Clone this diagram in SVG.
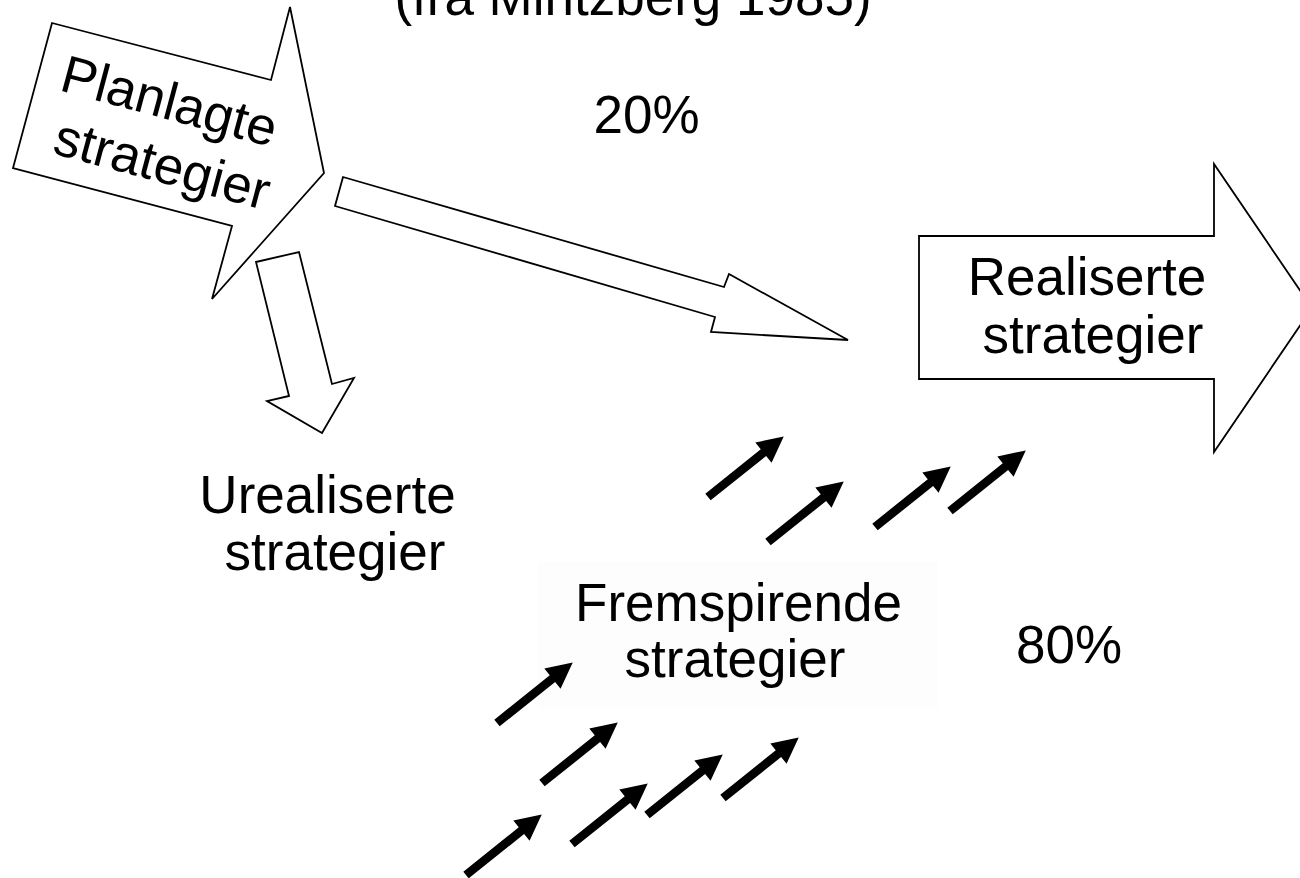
<svg xmlns="http://www.w3.org/2000/svg" xmlns:xlink="http://www.w3.org/1999/xlink" width="1300" height="878" viewBox="0 0 1300 878">
<style>
.t{font-family:"Liberation Sans",Arial,sans-serif;font-size:53px;fill:#000}
.m{text-anchor:middle}
.blk{fill:#fff;stroke:#000;stroke-width:1.8;stroke-linejoin:miter}
.sa{fill:#000}
</style>
<defs>
<path id="small" d="M0,-4.3 H71 V-13 L97,0 L71,13 V4.3 H0 Z"/>
</defs>
<rect width="1300" height="878" fill="#fff"/>
<rect id="fremspirende-bg" x="538" y="562" width="400" height="146" fill="#fdfdfd"/>
<g id="title"><text class="t m" x="633" y="15">(fra Mintzberg 1985)</text></g>
<g id="connectors">
<polygon class="blk" points="343,177 724,287 729,274 848,340 711,332 715,317 335,206"/>
<polygon class="blk" points="256,262 299,252 332,384 354,378 322,433 267,401 289,396"/>
<g class="sa">
<use xlink:href="#small" transform="translate(708,497) rotate(-38.66)"/>
<use xlink:href="#small" transform="translate(768,542) rotate(-38.66)"/>
<use xlink:href="#small" transform="translate(875,527) rotate(-38.66)"/>
<use xlink:href="#small" transform="translate(950,511) rotate(-38.66)"/>
<use xlink:href="#small" transform="translate(497,723) rotate(-38.66)"/>
<use xlink:href="#small" transform="translate(542,783) rotate(-38.66)"/>
<use xlink:href="#small" transform="translate(466,875) rotate(-38.66)"/>
<use xlink:href="#small" transform="translate(572,844) rotate(-38.66)"/>
<use xlink:href="#small" transform="translate(647,815) rotate(-38.66)"/>
<use xlink:href="#small" transform="translate(723,798) rotate(-38.66)"/>
</g>
</g>
<g id="planlagte">
<polygon class="blk" points="52,23 271,80 290,7 324,173 212,299 232,226 13,168"/>
<text class="t" transform="translate(58,90) rotate(15)">Planlagte</text>
<text class="t" transform="translate(51,153) rotate(15)">strategier</text>
</g>
<g id="realiserte">
<polygon class="blk" points="919,236 1214,236 1214,164 1312,308 1214,452 1214,379 919,379"/>
<text class="t m" x="1087" y="295">Realiserte</text>
<text class="t m" x="1093" y="353">strategier</text>
</g>
<g id="urealiserte">
<text class="t m" x="327.5" y="513">Urealiserte</text>
<text class="t m" x="335" y="570">strategier</text>
</g>
<g id="fremspirende">
<text class="t m" x="738.5" y="621">Fremspirende</text>
<text class="t m" x="735" y="677">strategier</text>
</g>
<g id="pct20"><text class="t m" x="646.5" y="133">20%</text></g>
<g id="pct80"><text class="t m" x="1069" y="663">80%</text></g>
</svg>
